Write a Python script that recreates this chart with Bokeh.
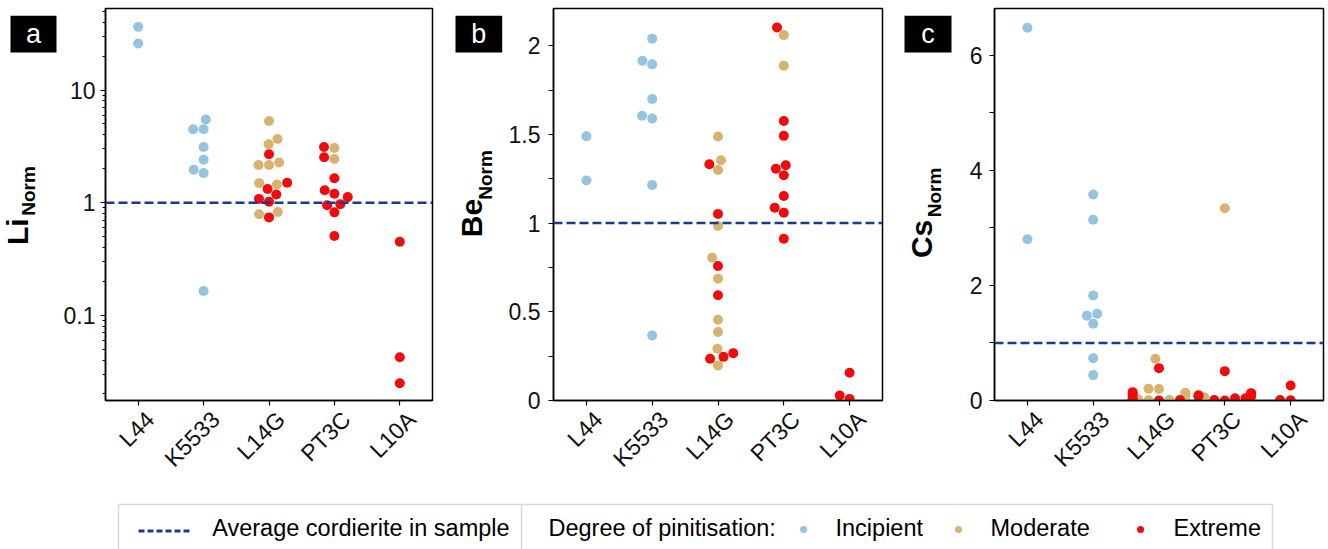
import numpy as np
from bokeh.plotting import figure
from bokeh.models import Range1d, FixedTicker, Span, LinearAxis
from bokeh.layouts import row, column
from bokeh.core.properties import value
from bokeh.embed import file_html
from bokeh.resources import INLINE

# ---------------- data ----------------
samples = ["L44", "K5533", "L14G", "PT3C", "L10A"]
degree_names = ["Incipient", "Moderate", "Extreme"]
degree_colors = ["#94c4df", "#d8b26e", "#f00c0c"]
avg_label = "Average cordierite  in sample"
legend_title = "Degree of pinitisation:"
avg_color = "#1a3a8c"
avg_value = 1.0

# Li (normalised), panel a
li_L44_inc = [36.4, 25.9]
li_K5533_inc = [5.47, 4.48, 4.48, 3.12, 2.41, 1.96, 1.83, 0.164]
li_L14G_mod = [5.31, 3.68, 3.30, 2.16, 2.16, 2.27, 1.45, 1.49, 0.825, 0.79]
li_L14G_ext = [2.69, 1.50, 1.32, 1.18, 1.08, 1.02, 0.74]
li_PT3C_mod = [3.06, 2.44]
li_PT3C_ext = [3.12, 2.53, 1.65, 1.29, 1.20, 1.12, 0.95, 0.97, 0.82, 0.505]
li_L10A_ext = [0.45, 0.0424, 0.0249]

# Be (normalised), panel b
be_L44_inc = [1.49, 1.24]
be_K5533_inc = [2.04, 1.915, 1.895, 1.70, 1.605, 1.59, 1.215, 0.367]
be_L14G_mod = [1.488, 1.354, 1.300, 0.984, 0.805, 0.687, 0.455, 0.386, 0.292, 0.198]
be_L14G_ext = [1.332, 1.052, 0.758, 0.593, 0.235, 0.246, 0.267]
be_PT3C_mod = [2.06, 1.887]
be_PT3C_ext = [2.103, 1.576, 1.492, 1.307, 1.326, 1.270, 1.153, 1.087, 1.059, 0.912]
be_L10A_ext = [0.156, 0.028, 0.009]

# Cs (normalised), panel c
cs_L44_inc = [6.475, 2.80]
cs_K5533_inc = [3.58, 3.14, 1.826, 1.507, 1.472, 1.333, 0.736, 0.441]
cs_L14G_mod = [0.725, 0.203, 0.200, 0.133, 0.128, 0.06, 0.03, 0.02, 0.01, 0.005]
cs_L14G_ext = [0.562, 0.145, 0.104, 0.04, 0.02, 0.01, 0.0]
cs_PT3C_mod = [3.34, 0.058]
cs_PT3C_ext = [0.51, 0.128, 0.116, 0.09, 0.07, 0.07, 0.04, 0.04, 0.01, 0.0]
cs_L10A_ext = [0.26, 0.01, 0.005]

li_groups = [("L44", "Incipient", li_L44_inc), ("K5533", "Incipient", li_K5533_inc),
             ("L14G", "Moderate", li_L14G_mod), ("L14G", "Extreme", li_L14G_ext),
             ("PT3C", "Moderate", li_PT3C_mod), ("PT3C", "Extreme", li_PT3C_ext),
             ("L10A", "Extreme", li_L10A_ext)]
be_groups = [("L44", "Incipient", be_L44_inc), ("K5533", "Incipient", be_K5533_inc),
             ("L14G", "Moderate", be_L14G_mod), ("L14G", "Extreme", be_L14G_ext),
             ("PT3C", "Moderate", be_PT3C_mod), ("PT3C", "Extreme", be_PT3C_ext),
             ("L10A", "Extreme", be_L10A_ext)]
cs_groups = [("L44", "Incipient", cs_L44_inc), ("K5533", "Incipient", cs_K5533_inc),
             ("L14G", "Moderate", cs_L14G_mod), ("L14G", "Extreme", cs_L14G_ext),
             ("PT3C", "Moderate", cs_PT3C_mod), ("PT3C", "Extreme", cs_PT3C_ext),
             ("L10A", "Extreme", cs_L10A_ext)]

color_of = dict(zip(degree_names, degree_colors))

FONT = "Liberation Sans, Arial, sans-serif"
TICK_SIZE = "23px"

FRAME_W, FRAME_H = 329, 392
FIG_H = 490
X_LO, X_HI = -0.5, 4.5
DOT = 10
LABEL_SHIFT_PX = 12


def swarm(ypix, r=DOT / 2):
    """seaborn-like beeswarm offsets (pixels) for points at pixel heights ypix."""
    n = len(ypix)
    order = sorted(range(n), key=lambda k: ypix[k])
    out = np.zeros(n)
    placed = []
    for idx in order:
        y = ypix[idx]
        if not placed:
            placed.append((0.0, y))
            continue
        nb = []
        for (xj, yj) in reversed(placed):
            if y - yj < 2 * r:
                nb.append((xj, yj))
            else:
                break
        cands = [0.0]
        left_first = True
        for (xj, yj) in nb:
            dy = y - yj
            dx = np.sqrt(max(4 * r * r - dy * dy, 0.0)) * 1.05
            cands += [xj - dx, xj + dx] if left_first else [xj + dx, xj - dx]
            left_first = not left_first
        cands.sort(key=abs)
        chosen = cands[-1]
        for c in cands:
            if all((c - xj) ** 2 + (y - yj) ** 2 >= 4 * r * r - 1e-9 for (xj, yj) in nb):
                chosen = c
                break
        placed.append((chosen, y))
        out[idx] = chosen
    return out


def make_panel(groups, log, y0, y1, ticks, minor, width, left, standoff):
    right = width - left - FRAME_W
    kw = dict(y_axis_type="log") if log else {}
    p = figure(width=width, height=FIG_H, x_range=Range1d(X_LO, X_HI), y_range=Range1d(y0, y1),
               toolbar_location=None, output_backend="svg",
               min_border_left=left, min_border_right=right, min_border_top=8,
               min_border_bottom=FIG_H - 8 - FRAME_H, **kw)
    if log:
        scale = FRAME_H / (np.log10(y1) - np.log10(y0))
        to_px = lambda v: np.log10(v) * scale
    else:
        scale = FRAME_H / (y1 - y0)
        to_px = lambda v: v * scale
    px_per_cat = FRAME_W / (X_HI - X_LO)

    xs, ys, cs = [], [], []
    for i, s in enumerate(samples):
        vals, cols = [], []
        for (si, deg, v) in groups:
            if si == s:
                vals += list(v)
                cols += [color_of[deg]] * len(v)
        if not vals:
            continue
        off = swarm([to_px(v) for v in vals])
        off = np.clip(off, -0.4 * px_per_cat, 0.4 * px_per_cat)
        xs += list(i + off / px_per_cat)
        ys += vals
        cs += cols
    p.scatter(x=xs, y=ys, size=DOT, fill_color=cs, line_color=None)

    p.add_layout(Span(location=avg_value, dimension="width", line_color=avg_color,
                      line_dash="9 4", line_width=2.5))

    p.xgrid.visible = False
    p.ygrid.visible = False
    p.background_fill_color = "white"
    p.border_fill_color = "white"
    p.outline_line_color = "black"
    p.outline_line_width = 1.5
    p.outline_line_alpha = 1.0

    cat_ticks = list(range(len(samples)))
    # tick marks only on the primary x axis (labels not drawn)
    xa = p.xaxis[0]
    xa.ticker = FixedTicker(ticks=cat_ticks)
    xa.major_label_text_color = None
    xa.major_label_standoff = 0
    xa.minor_tick_line_color = None

    # sample names on a second axis (they sit slightly right of the ticks, as in the source)
    shift = LABEL_SHIFT_PX / px_per_cat
    p.extra_x_ranges = {"names": Range1d(X_LO - shift, X_HI - shift)}
    na = LinearAxis(x_range_name="names", ticker=FixedTicker(ticks=cat_ticks),
                    major_label_overrides={i: s for i, s in enumerate(samples)},
                    major_label_orientation=np.pi / 4, axis_line_color=None,
                    major_tick_line_color=None, minor_tick_line_color=None,
                    major_label_standoff=4, major_label_text_font=FONT,
                    major_label_text_font_size=TICK_SIZE, major_label_text_color="#111111")
    p.add_layout(na, "below")

    ya = p.yaxis[0]
    ya.ticker = FixedTicker(ticks=ticks, minor_ticks=minor)
    ya.major_label_overrides = {t: f"{t:g}" for t in ticks}
    ya.major_label_standoff = standoff
    ya.major_label_text_font = FONT
    ya.major_label_text_font_size = TICK_SIZE
    ya.major_label_text_color = "#111111"
    ya.minor_tick_line_color = "black"
    ya.minor_tick_line_width = 1.0
    ya.minor_tick_in = 0
    ya.minor_tick_out = 3 if log else 5

    for ax in (xa, ya):
        ax.axis_line_color = "black"
        ax.axis_line_width = 1.5
        ax.major_tick_line_color = "black"
        ax.major_tick_line_width = 1.2
        ax.major_tick_in = 0
        ax.major_tick_out = 5
    return p


def make_label_strip(width, letter, elem, elem_xy, norm_xy, badge):
    """Left margin strip: black letter badge and the rotated element label (pixel coords)."""
    f = figure(width=width, height=FIG_H, x_range=Range1d(0, width), y_range=Range1d(0, FIG_H),
               toolbar_location=None, output_backend="svg", min_border=0,
               x_axis_location=None, y_axis_location=None)
    f.grid.visible = False
    f.outline_line_color = None
    f.background_fill_color = "white"
    f.border_fill_color = "white"
    bl, br, bt, bb = badge
    f.quad(left=[bl], right=[br], top=[FIG_H - bt], bottom=[FIG_H - bb],
           fill_color="black", line_color=None)
    f.text(x=[(bl + br) / 2], y=[FIG_H - (bt + bb) / 2], text=[letter],
           text_font=value(FONT), text_font_size=value("27px"), text_color="white",
           text_align="center", text_baseline="middle")
    f.text(x=[elem_xy[0]], y=[FIG_H - elem_xy[1]], text=[elem], angle=np.pi / 2,
           text_font=value(FONT), text_font_style="bold", text_font_size=value("30px"),
           text_color="black", text_align="center", text_baseline="middle")
    f.text(x=[norm_xy[0]], y=[FIG_H - norm_xy[1]], text=["Norm"], angle=np.pi / 2,
           text_font=value(FONT), text_font_style="bold", text_font_size=value("19px"),
           text_color="black", text_align="center", text_baseline="middle")
    return f


li_minor = [m * 10.0 ** e for e in (-2, -1, 0, 1) for m in range(2, 10)]
la = make_label_strip(60, "a", "Li", (17, 279), (28, 228), (10, 56, 9, 55))
pa = make_panel(li_groups, True, 0.0175, 53.0, [0.1, 1, 10], li_minor, 380, 43, 5)
lb = make_label_strip(65, "b", "Be", (31, 262), (45, 208), (15, 61.7, 9, 55))
pb = make_panel(be_groups, False, 0.0, 2.21, [0, 0.5, 1, 1.5, 2],
                [0.25, 0.75, 1.25, 1.75], 379, 48, 8)
lc = make_label_strip(70, "c", "Cs", (37, 288), (50, 230), (20, 67, 9, 55))
pc = make_panel(cs_groups, False, 0.0, 6.81, [0, 2, 4, 6], [1, 3, 5], 374, 40, 7)

# ---------------- legend strip ----------------
LEG_H = 549 - FIG_H
pl = figure(width=1328, height=LEG_H, x_range=Range1d(0, 1328), y_range=Range1d(0, LEG_H),
            toolbar_location=None, output_backend="svg", min_border=0,
            x_axis_location=None, y_axis_location=None)
pl.grid.visible = False
pl.outline_line_color = None
pl.background_fill_color = "white"
pl.border_fill_color = "white"

box_l, box_r, box_t, box_b, divider = 118, 1272, 45, -6, 521
pl.quad(left=[box_l], right=[box_r], bottom=[box_b], top=[box_t],
        fill_color="white", line_color="#d9d9d9", line_width=1.5)
pl.segment(x0=[divider], y0=[box_b], x1=[divider], y1=[box_t],
           line_color="#d9d9d9", line_width=1.5)
pl.segment(x0=[138], y0=[18.5], x1=[192], y1=[18.5], line_color=avg_color,
           line_width=3, line_dash="6 3")
dot_x = [803, 958, 1140]
lab_x = [835, 990, 1173]
pl.scatter(x=dot_x, y=[20] * 3, size=7, fill_color=degree_colors, line_color=None)
pl.text(x=[211.7, 548] + lab_x, y=[22] * 5,
        text=[avg_label, legend_title] + degree_names,
        text_font=value(FONT), text_font_size=value("23.5px"),
        text_baseline="middle", text_align="left", text_color="black")

layout = column(row(la, pa, lb, pb, lc, pc, spacing=0), pl, spacing=0)
open("out.html", "w").write(file_html(layout, INLINE))
